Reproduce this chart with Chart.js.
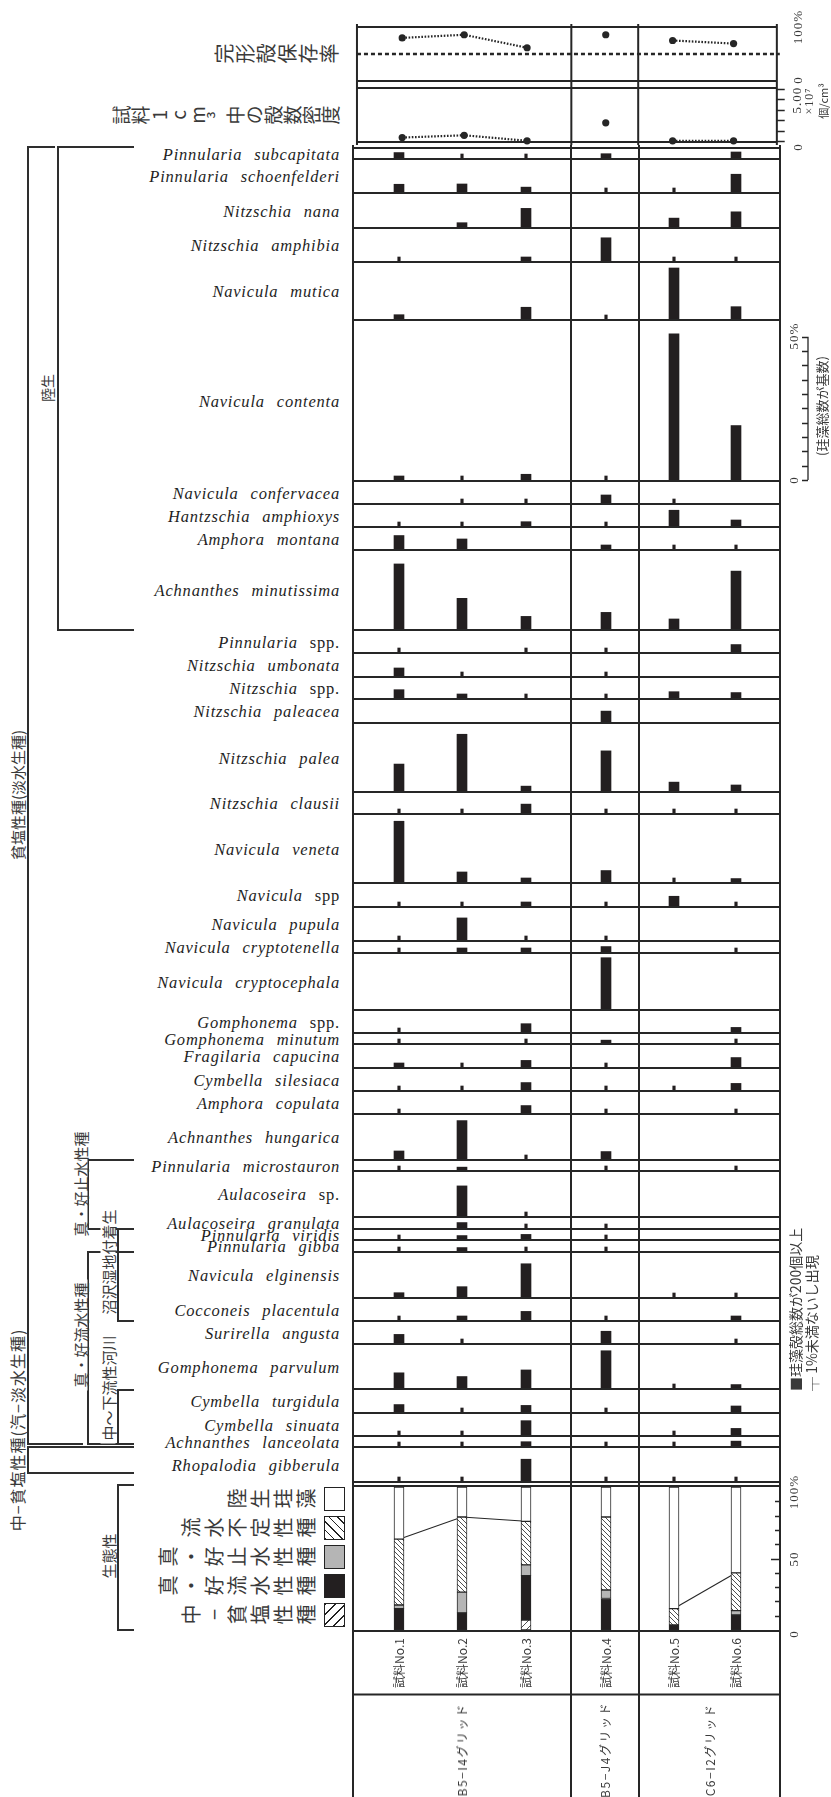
<!DOCTYPE html>
<html lang="ja">
<head>
<meta charset="utf-8">
<title>珪藻化石群集</title>
<script src="https://cdn.jsdelivr.net/npm/chart.js@4.4.1/dist/chart.umd.min.js"></script>
<style>
  html, body { margin: 0; padding: 0; background: #fff; }
  #page { position: relative; width: 831px; height: 1797px; overflow: hidden; background: #fff; }
  #page canvas { position: absolute; }
  .sp { position: absolute; right: 491px; transform: translateY(-50%); font: italic 16.5px 'Liberation Serif', 'Times New Roman', serif;
        letter-spacing: .8px; word-spacing: 7px; white-space: nowrap; color: #1e1e1e; line-height: 1; }
  .sp .up { font-style: normal; }
  .rot { position: absolute; white-space: nowrap; line-height: 1; transform: translate(-50%, -50%) rotate(-90deg); }
  .from { position: absolute; white-space: nowrap; line-height: 1; transform-origin: 0 0; transform: rotate(-90deg) translateY(-50%); }
  .jp { font-family: 'Noto Sans CJK JP', sans-serif; color: #3a3a3a; }
  .num { font-family: 'Liberation Serif', serif; color: #3a3a3a; font-size: 13px; letter-spacing: 1px; }
  .tate { writing-mode: vertical-rl; text-orientation: upright; text-align: end; }
  .seg { position: absolute; background: #2e2e2e; }
  .white { background: #fff; padding: 0 3px; }
  .box { position: absolute; box-sizing: border-box; border: 1.5px solid #222; }
</style>
</head>
<body>
<div id="page"></div>
<script>
// ---- data ----
const SAMPLES = ['試料No.1', '試料No.2', '試料No.3', '試料No.4', '試料No.5', '試料No.6'];
const GRIDS = ['B5−I4グリッド', 'B5−J4グリッド', 'C6−I2グリッド'];
const SAMPLE_GRID = [0, 0, 0, 1, 2, 2];

const SPECIES = [
  'Pinnularia subcapitata', 'Pinnularia schoenfelderi', 'Nitzschia nana', 'Nitzschia amphibia',
  'Navicula mutica', 'Navicula contenta', 'Navicula confervacea', 'Hantzschia amphioxys',
  'Amphora montana', 'Achnanthes minutissima', 'Pinnularia spp.', 'Nitzschia umbonata',
  'Nitzschia spp.', 'Nitzschia paleacea', 'Nitzschia palea', 'Nitzschia clausii',
  'Navicula veneta', 'Navicula spp', 'Navicula pupula', 'Navicula cryptotenella',
  'Navicula cryptocephala', 'Gomphonema spp.', 'Gomphonema minutum', 'Fragilaria capucina',
  'Cymbella silesiaca', 'Amphora copulata', 'Achnanthes hungarica', 'Pinnularia microstauron',
  'Aulacoseira sp.', 'Aulacoseira granulata', 'Pinnularia viridis', 'Pinnularia gibba',
  'Navicula elginensis', 'Cocconeis placentula', 'Surirella angusta', 'Gomphonema parvulum',
  'Cymbella turgidula', 'Cymbella sinuata', 'Achnanthes lanceolata', 'Rhopalodia gibberula'
];

// % of total diatom count per sample; 0.5 = found but under 1 %, 0 = not found
const NO1 = [1.9, 2.7, 0, 0.5, 1.5, 1.4, 0, 0.5, 4.7, 22.7, 0.5, 2.8, 2.9, 0, 9.4, 0.5, 21.2, 0.5, 0.5, 0.5,
             0, 0.5, 0.5, 1.4, 0.5, 0.5, 2.8, 0.5, 0, 0, 0.5, 0.5, 1.5, 0.5, 3.0, 5.3, 2.6, 0.5, 0.5, 0.5];
const NO2 = [0.5, 2.8, 1.5, 0, 0, 0.5, 0.5, 0.5, 3.5, 10.7, 0, 0.5, 1.4, 0, 19.8, 0.5, 3.5, 0.5, 7.7, 1.4,
             0, 0, 0, 0.5, 0.5, 0, 13.4, 1.0, 10.5, 1.9, 1.2, 1.2, 3.6, 1.4, 0.5, 4.0, 0.5, 0.5, 0.5, 0.5];
const NO3 = [0.5, 1.7, 6.5, 1.4, 4.1, 2.0, 0.5, 1.5, 0, 4.4, 0.5, 0, 0.5, 0, 1.7, 3.1, 1.4, 1.4, 0.5, 1.4,
             0, 2.9, 0.5, 2.3, 2.6, 2.6, 0.5, 0, 0.5, 0.5, 1.6, 0.5, 11.6, 3.0, 0, 6.3, 2.3, 5.0, 1.5, 7.6];
const NO4 = [1.5, 0.5, 0, 8.1, 0.5, 0.5, 2.8, 0.5, 1.4, 5.8, 0.5, 0.5, 0.5, 3.8, 14.0, 0.5, 4.0, 0.5, 0.5, 1.9,
             17.9, 0, 1.0, 0.5, 0.5, 0.5, 2.6, 0.5, 0, 0.5, 0.5, 0.5, 0, 0.5, 4.1, 13.0, 0.5, 0, 0.5, 0.5];
const NO5 = [0, 0.5, 3.1, 0.5, 17.8, 51, 0.5, 5.5, 0.5, 3.5, 0, 0, 2.2, 0, 3.1, 0.5, 0.5, 3.4, 0, 0,
             0, 0, 0, 0, 0.5, 0, 0, 0, 0, 0, 0, 0, 0.5, 0, 0, 0.5, 0, 0.5, 0.5, 0.5];
const NO6 = [2.1, 6.2, 5.3, 0.5, 4.3, 19, 0, 2.1, 0.5, 20.2, 2.6, 0, 1.9, 0, 2.1, 0.5, 1.2, 0.5, 0, 0.5,
             0, 1.6, 0.5, 3.3, 2.3, 0.5, 0, 0.5, 0, 0, 0, 0, 0.5, 1.4, 0.5, 1.2, 2.1, 2.3, 1.7, 0.5];
const SAMPLE_DATA = [NO1, NO2, NO3, NO4, NO5, NO6];

const PRESERVATION = [81, 87, 62, 87, 76, 70];          // 完形殻保存率 %
const DENSITY = [0.33, 0.55, 0.02, 1.75, 0.02, 0.02];   // ×10^7 個/cm3

// 生態性 composition (%), bottom to top of each column
const ECO_LABELS = ['中−貧塩性種', '真・好流水性種', '真・好止水性種', '流水不定性種', '陸生珪藻'];
const ECO_SALINE = [0, 0, 7, 0, 0, 0];
const ECO_RHEO = [15, 12, 31, 22, 3.5, 10.5];
const ECO_LIMNO = [2.5, 14.5, 7.5, 6, 0, 3];
const ECO_INDIF = [46, 52.5, 30.5, 51, 11.5, 26.5];
const ECO_AERO = [36.5, 21, 24, 21, 85, 60];

// ---- layout ----
const CANVAS_L = 351, CANVAS_W = 480;
const SAMPLE_X = [48, 111, 175, 255, 323, 385];   // x-scale units (px from canvas left)
const VLINES = [2, 220, 288, 429];
const PANEL_L = 2, PANEL_R = 429;
const PX_PER_PCT = 2.866;
const TICK_PCT = 4 / PX_PER_PCT;
const ROW_EDGES = [148, 159, 193, 228, 262, 320, 481, 504, 527, 550, 630, 653, 677, 699, 723, 792, 814, 883, 907, 941,
                   953, 1010, 1033, 1044, 1068, 1091, 1114, 1160, 1171, 1217, 1229, 1240, 1252, 1298, 1321, 1344, 1389, 1413, 1436, 1447, 1482];
const INK = '#262626', BAR = '#231f20', GRAY = '#b5b5b5';

const page = document.getElementById('page');
const FRAME = new WeakMap();

function el(tag, cls, text) {
  const d = document.createElement(tag);
  if (cls) d.className = cls;
  if (text != null) d.textContent = text;
  page.appendChild(d);
  return d;
}

function hatch(dir, s) {
  const c = document.createElement('canvas');
  c.width = c.height = s;
  const g = c.getContext('2d');
  g.fillStyle = '#fff'; g.fillRect(0, 0, s, s);
  g.strokeStyle = '#222'; g.lineWidth = 0.8;
  g.beginPath();
  if (dir === '/') {
    g.moveTo(0, s); g.lineTo(s, 0); g.moveTo(-1, 1); g.lineTo(1, -1); g.moveTo(s - 1, s + 1); g.lineTo(s + 1, s - 1);
  } else {
    g.moveTo(0, 0); g.lineTo(s, s); g.moveTo(-1, s - 1); g.lineTo(1, s + 1); g.moveTo(s - 1, -1); g.lineTo(s + 1, 1);
  }
  g.stroke();
  return g.createPattern(c, 'repeat');
}

const framePlugin = {
  id: 'frame',
  beforeDatasetsDraw(chart) {
    const o = FRAME.get(chart.canvas) || {};
    if (o.dashAt == null) return;
    const { ctx, scales: { x, y } } = chart;
    const py = y.getPixelForValue(o.dashAt);
    ctx.save();
    ctx.strokeStyle = INK; ctx.lineWidth = 2.6; ctx.setLineDash([4, 3]);
    ctx.beginPath(); ctx.moveTo(x.getPixelForValue(PANEL_L), py); ctx.lineTo(x.getPixelForValue(PANEL_R + 3), py); ctx.stroke();
    ctx.restore();
  },
  afterDatasetsDraw(chart) {
    const o = FRAME.get(chart.canvas) || {};
    const { ctx, chartArea: a, scales: { x, y } } = chart;
    const H = chart.height;
    const xl = x.getPixelForValue(PANEL_L) - 1, xr = x.getPixelForValue(PANEL_R) + 1;
    ctx.save();
    ctx.strokeStyle = INK; ctx.lineWidth = 2; ctx.setLineDash([]);
    ctx.beginPath();
    VLINES.forEach(v => { const px = x.getPixelForValue(v); ctx.moveTo(px, 0); ctx.lineTo(px, H); });
    const hl = py => { ctx.moveTo(xl, py); ctx.lineTo(xr, py); };
    hl(a.bottom + 1);
    if (o.top) hl(a.top - 1);
    (o.extraRows || []).forEach(d => hl(a.bottom + d));
    ctx.stroke();
    if (o.ticks) {
      ctx.lineWidth = 1.3;
      ctx.beginPath();
      o.ticks.forEach(t => {
        const py = Math.round(y.getPixelForValue(t.v)) + 0.5;
        ctx.moveTo(x.getPixelForValue(t.x1), py); ctx.lineTo(x.getPixelForValue(t.x2), py);
      });
      if (o.axis) {
        const px = x.getPixelForValue(o.axis.x);
        ctx.moveTo(px, y.getPixelForValue(o.axis.v1)); ctx.lineTo(px, y.getPixelForValue(o.axis.v2));
      }
      ctx.stroke();
    }
    ctx.restore();
  }
};

function panel(top, height, padTop, padBottom, yMax, datasets, frame, stacked) {
  const c = document.createElement('canvas');
  c.width = CANVAS_W; c.height = height;
  c.style.cssText = `left:${CANVAS_L}px;top:${top}px;width:${CANVAS_W}px;height:${height}px`;
  page.appendChild(c);
  FRAME.set(c, frame);
  return new Chart(c, {
    type: 'bar',
    data: { datasets },
    options: {
      responsive: false, animation: false, devicePixelRatio: 1, events: [],
      layout: { padding: { top: padTop, bottom: padBottom, left: 0, right: 0 } },
      scales: {
        x: { type: 'linear', min: 0, max: CANVAS_W, offset: false, display: false },
        y: { type: 'linear', min: 0, max: yMax, display: false, stacked: !!stacked }
      },
      plugins: { legend: { display: false }, tooltip: { enabled: false } }
    },
    plugins: [framePlugin]
  });
}

const sameGrid = ctx => SAMPLE_GRID[ctx.p0DataIndex] === SAMPLE_GRID[ctx.p1DataIndex] ? INK : 'transparent';

function dottedLine(values) {
  return {
    type: 'line', data: SAMPLE_X.map((x, j) => ({ x, y: values[j] })),
    borderColor: INK, borderWidth: 2.2, borderDash: [1.6, 1.6],
    pointRadius: 3.6, pointBackgroundColor: INK, pointBorderWidth: 0, clip: false,
    segment: { borderColor: sameGrid }
  };
}

// 完形殻保存率
panel(24, 60, 2, 2, 100, [dottedLine(PRESERVATION)], { top: true, dashAt: 50 });
// 殻数密度
panel(84, 61, 5, 2, 5, [dottedLine(DENSITY)],
  { top: true, ticks: [0, 1, 2, 3, 4, 5].map(v => ({ v, x1: 429, x2: 437 })) });

// species rows
SPECIES.forEach((name, i) => {
  const vals = SAMPLE_DATA.map(a => a[i]);
  const padTop = i === 0 ? 4 : 0;
  const top = ROW_EDGES[i] + 1 - padTop;
  const h = ROW_EDGES[i + 1] + 1 - top;
  const yMax = (h - padTop - 2) / PX_PER_PCT;
  const frame = { top: i === 0 };
  if (name === 'Navicula contenta') {
    frame.ticks = [0, 5, 10, 15, 20, 25, 30, 35, 40, 45, 50].map(v => ({ v, x1: 451, x2: 457 }));
    frame.axis = { x: 457, v1: 0, v2: 50 };
  }
  panel(top, h, padTop, 2, yMax, [
    { type: 'bar', grouped: false, barThickness: 10, backgroundColor: BAR,
      data: SAMPLE_X.map((x, j) => ({ x, y: vals[j] >= 1 ? vals[j] : null })) },
    { type: 'bar', grouped: false, barThickness: 2.5, backgroundColor: BAR,
      data: SAMPLE_X.map((x, j) => ({ x, y: vals[j] > 0 && vals[j] < 1 ? TICK_PCT : null })) }
  ], frame);

  const lab = el('div', 'sp');
  const m = name.match(/^(.*?)(\s+spp?\.?)$/);
  if (m) { lab.textContent = m[1]; const s = document.createElement('span'); s.className = 'up'; s.textContent = m[2]; lab.appendChild(s); }
  else lab.textContent = name;
  lab.style.top = ((ROW_EDGES[i] + ROW_EDGES[i + 1]) / 2 + 1) + 'px';
});

// 生態性 stacked columns
const ECO_SERIES = [ECO_SALINE, ECO_RHEO, ECO_LIMNO, ECO_INDIF, ECO_AERO];
const ECO_FILL = [hatch('/', 7), BAR, GRAY, hatch('\\', 5), '#fff'];
const aquaticTop = SAMPLE_X.map((_, j) => ECO_SALINE[j] + ECO_RHEO[j] + ECO_LIMNO[j] + ECO_INDIF[j]);
panel(1483, 314, 4, 167, 100, [
  ...ECO_SERIES.map((arr, k) => ({
    type: 'bar', stack: 'eco', grouped: false, barThickness: 10, order: 1,
    data: SAMPLE_X.map((x, j) => ({ x, y: arr[j] || null })),
    backgroundColor: ECO_FILL[k], borderColor: INK, borderWidth: 1, borderSkipped: false
  })),
  { type: 'line', stack: 'line', order: 5, data: SAMPLE_X.map((x, j) => ({ x, y: aquaticTop[j] })),
    borderColor: INK, borderWidth: 1.1, pointRadius: 0, segment: { borderColor: sameGrid } }
], {
  top: true, extraRows: [64.5],
  ticks: [10, 20, 30, 40, 50, 60, 70, 80, 90].map(v => ({ v, x1: v === 50 ? 420 : 424, x2: 429 }))
}, true);

// ---- text ----
function rot(text, cx, cy, cls, size) {
  const d = el('div', 'rot ' + cls, text);
  d.style.left = cx + 'px'; d.style.top = cy + 'px';
  if (size) d.style.fontSize = size + 'px';
  return d;
}
function rotFrom(text, x, y0, cls, size) {
  const d = el('div', 'from ' + cls, text);
  d.style.left = x + 'px'; d.style.top = y0 + 'px';
  if (size) d.style.fontSize = size + 'px';
  return d;
}
function tate(text, rightX, cy, size, spacing) {
  const len = 300;
  const d = el('div', 'rot tate jp', text);
  d.style.height = len + 'px';
  d.style.fontSize = size + 'px';
  d.style.letterSpacing = spacing + 'px';
  d.style.left = (rightX - len / 2) + 'px';
  d.style.top = cy + 'px';
  return d;
}

// bracket lines
const BRACKETS = [
  [28, 147, 28, 1444], [28, 147, 54, 147], [28, 1444, 82, 1444],
  [58, 147, 58, 630], [58, 147, 133, 147], [58, 630, 133, 630],
  [88, 1160, 88, 1229], [88, 1160, 133, 1160], [88, 1229, 133, 1229],
  [118, 1229, 118, 1321], [118, 1321, 133, 1321],
  [88, 1252, 88, 1444], [88, 1252, 133, 1252], [88, 1444, 133, 1444],
  [118, 1390, 118, 1444], [118, 1390, 133, 1390],
  [28, 1447, 28, 1473], [28, 1447, 133, 1447], [28, 1473, 133, 1473],
  [118, 1485, 118, 1630], [118, 1485, 133, 1485], [118, 1630, 133, 1630]
];
BRACKETS.forEach(([x1, y1, x2, y2]) => {
  const d = el('div', 'seg');
  d.style.left = (Math.min(x1, x2) - 1) + 'px';
  d.style.top = (Math.min(y1, y2) - 1) + 'px';
  d.style.width = (Math.abs(x2 - x1) + 2) + 'px';
  d.style.height = (Math.abs(y2 - y1) + 2) + 'px';
});

rot('陸生', 47, 388, 'jp white', 14);
rot('貧塩性種(淡水生種)', 17, 795, 'jp white', 15);
const salLabel = rot('中−貧塩性種(汽−淡水生種)', 17, 1430, 'jp white', 16);
salLabel.style.letterSpacing = '1px';
rot('真・好止水性種', 79.5, 1184, 'jp white', 15);
rot('真・好流水性種', 79.5, 1335, 'jp white', 15);
rot('沼沢湿地付着生', 107.5, 1262, 'jp white', 15);
rot('中〜下流性河川', 107.5, 1388, 'jp white', 15);
rot('生態性', 107.5, 1556, 'jp white', 15);

// column headers of the upper panels
tate('完形殻保存率', 340, 54, 20, 1);
tate('試料1cm³中の殻数密度', 340, 115, 19, 0);

// legend of the composition panel
const ECO_CSS = [
  'repeating-linear-gradient(-45deg, #222 0 1px, #fff 1px 7px)', BAR, GRAY,
  'repeating-linear-gradient(45deg, #222 0 1px, #fff 1px 6px)', '#fff'
];
[4, 3, 2, 1, 0].forEach((k, r) => {
  const cy = 1499 + r * 29;
  tate(ECO_LABELS[k], 319, cy, 20, 3);
  const b = el('div', 'box');
  b.style.left = '324px'; b.style.top = (cy - 12) + 'px';
  b.style.width = '21px'; b.style.height = '24px';
  b.style.background = ECO_CSS[k];
});

// right-hand scale labels
rot('100%', 797, 27, 'num');
rot('0', 797, 80, 'num');
rot('5.00', 796, 100, 'num');
rot('×10⁷', 809, 101, 'num', 12);
rot('個/cm³', 823, 101, 'jp', 11);
rot('0', 797, 147, 'num');
rot('50%', 793, 336, 'num');
rot('0', 793, 480, 'num');
rot('(珪藻総数が基数)', 821, 406, 'jp', 13);
rot('100%', 793, 1492, 'num');
rot('50', 793, 1559, 'num');
rot('0', 793, 1634, 'num');
rotFrom('■珪藻殻総数が200個以上', 795, 1391, 'jp', 14);
rotFrom('┬ 1%未満ないし出現', 811, 1391, 'jp', 14);

// sample and grid labels
SAMPLES.forEach((s, j) => rot(s, CANVAS_L + SAMPLE_X[j], 1663, 'jp', 12));
GRIDS.forEach((g, k) => {
  const cx = CANVAS_L + (VLINES[k] + VLINES[k + 1]) / 2;
  const d = rot(g, cx, 1750, 'jp', 12);
  d.style.letterSpacing = '1.5px';
});
</script>
</body>
</html>
